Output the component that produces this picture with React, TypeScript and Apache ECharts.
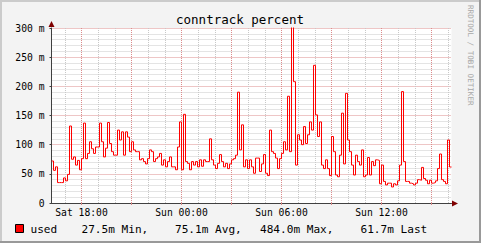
import { useEffect, useRef } from "react";
import * as echarts from "echarts";

const TITLE = "conntrack percent";
const SERIES_NAME = "used";
const WATERMARK = "RRDTOOL / TOBI OETIKER";

// hours since Sat 00:00
const START_HOUR = 16.2;
const END_HOUR = 40.2;
const STEP_HOURS = 0.12;

// conntrack used, in milli-percent units ("m")
const usedValues = [
  72, 56, 62, 35, 35, 35, 43, 38, 49, 132,
  75, 79, 65, 73, 57, 76, 137, 76, 85, 105,
  93, 85, 96, 96, 137, 105, 79, 94, 138, 102,
  88, 82, 82, 125, 108, 122, 82, 122, 113, 88,
  105, 91, 88, 88, 74, 76, 71, 67, 76, 91,
  88, 71, 76, 79, 85, 65, 74, 62, 71, 79,
  62, 62, 57, 96, 139, 57, 152, 71, 68, 57,
  71, 65, 71, 62, 74, 63, 74, 71, 71, 110,
  74, 65, 59, 68, 83, 71, 62, 68, 59, 67,
  74, 76, 82, 190, 91, 134, 62, 74, 59, 74,
  62, 51, 77, 77, 54, 67, 83, 51, 47, 125,
  88, 85, 77, 59, 76, 85, 105, 91, 183, 88,
  484, 208, 65, 117, 108, 100, 131, 102, 117, 139,
  125, 236, 151, 114, 139, 65, 59, 74, 59, 47,
  114, 88, 48, 45, 82, 154, 67, 188, 108, 88,
  65, 48, 82, 71, 65, 91, 45, 48, 78, 48,
  71, 64, 74, 73, 33, 65, 37, 31, 34, 34,
  27.5, 33, 31, 38, 65, 191, 71, 37, 37, 34,
  33, 31, 34, 40, 39, 61, 42, 39, 33, 39,
  34, 35, 38, 59, 84, 40, 37, 33, 108, 61.7,
];

const Y_MIN = 0;
const Y_MAX = 300;
const Y_STEP = 50;
const majorHours = [18, 21, 24, 27, 30, 33, 36, 39];
const minorHours = [17, 18, 19, 20, 21, 22, 23, 24, 25, 26, 27, 28, 29, 30, 31, 32, 33, 34, 35, 36, 37, 38, 39, 40];
const labelHours = [18, 24, 30, 36];
const statTexts = ["27.5m Min,", "75.1m Avg,", "484.0m Max,", "61.7m Last"];

const MONO = "DejaVu Sans Mono";
const RED = "#ff0000";

function hourLabel(h: number): string {
  const day = h < 24 ? "Sat" : "Sun";
  const hh = Math.round(h) % 24;
  return `${day} ${String(hh).padStart(2, "0")}:00`;
}

export default function App() {
  const ref = useRef<HTMLDivElement>(null);

  useEffect(() => {
    if (!ref.current) return;
    const chart = echarts.init(ref.current, undefined, { renderer: "svg" });

    const data: [number, number][] = usedValues.map((v, i) => [START_HOUR + STEP_HOURS * i, v]);
    data.push([END_HOUR, usedValues[usedValues.length - 1]]);

    const statX = [81.5, 175, 260, 360.5];

    chart.setOption({
      animation: false,
      color: [RED],
      backgroundColor: "#f3f3f3",
      grid: {
        left: 51.5,
        right: 29.5,
        top: 28,
        bottom: 40,
        show: true,
        backgroundColor: "#ffffff",
        borderWidth: 0,
      },
      xAxis: [
        {
          type: "value",
          position: "bottom",
          min: START_HOUR,
          max: END_HOUR,
          axisLine: { show: false },
          axisLabel: { show: false },
          axisTick: { show: false, customValues: minorHours },
          splitLine: { show: true, lineStyle: { color: "#c8c8c8", type: [1, 1], width: 1 } },
        },
        {
          type: "value",
          position: "bottom",
          offset: 0,
          min: START_HOUR,
          max: END_HOUR,
          axisLine: { show: true, lineStyle: { color: "#404040", width: 1 } },
          axisTick: { show: true, length: 2, customValues: majorHours, lineStyle: { color: "#d88888" } },
          axisLabel: {
            show: true,
            customValues: labelHours,
            formatter: (v: number) => hourLabel(v),
            color: "#000",
            fontFamily: MONO,
            fontSize: 9.7,
            margin: 4,
          },
          splitLine: { show: true, lineStyle: { color: "#dc8c8c", type: [1, 1], width: 1 } },
        },
      ],
      yAxis: {
        type: "value",
        min: Y_MIN,
        max: Y_MAX,
        interval: Y_STEP,
        axisLine: { show: true, lineStyle: { color: "#404040", width: 1 } },
        axisTick: { show: true, length: 2, lineStyle: { color: "#404040" } },
        axisLabel: {
          formatter: (v: number) => (v === 0 ? "0" : `${v} m`),
          color: "#000",
          fontFamily: MONO,
          fontSize: 9.7,
          margin: 7,
        },
        splitLine: { show: true, lineStyle: { color: "#dc8c8c", type: [1, 1], width: 1 } },
        minorTick: { show: false, splitNumber: 5 },
        minorSplitLine: { show: true, lineStyle: { color: "#c8c8c8", type: [1, 1], width: 1 } },
      },
      series: [
        {
          name: SERIES_NAME,
          type: "line",
          xAxisIndex: 1,
          step: "end",
          showSymbol: false,
          symbol: "none",
          clip: true,
          data,
          color: RED,
          itemStyle: { color: RED },
          lineStyle: { color: RED, width: 1, opacity: 1, shadowBlur: 0 },
          emphasis: { disabled: true },
          z: 5,
        },
      ],
      graphic: [
        { type: "rect", shape: { x: 0, y: 0, width: 481, height: 2 }, style: { fill: "#cbcbcb" }, silent: true },
        { type: "rect", shape: { x: 0, y: 0, width: 2, height: 243 }, style: { fill: "#cbcbcb" }, silent: true },
        { type: "rect", shape: { x: 0, y: 241, width: 481, height: 2 }, style: { fill: "#999999" }, silent: true },
        { type: "rect", shape: { x: 479, y: 0, width: 2, height: 243 }, style: { fill: "#999999" }, silent: true },
        {
          type: "text",
          x: 240,
          y: 19.5,
          style: { text: TITLE, fontFamily: MONO, fontSize: 12.5, fill: "#000", textAlign: "center", textVerticalAlign: "middle" },
          silent: true,
        },
        {
          type: "text",
          x: 470.5,
          y: 5,
          rotation: -Math.PI / 2,
          style: { text: WATERMARK, fontFamily: MONO, fontSize: 7.6, fill: "#a8a8a8", textAlign: "left", textVerticalAlign: "middle" },
          silent: true,
        },
        {
          type: "polygon",
          shape: { points: [[452, 200.5], [458, 203.5], [452, 206.5]] },
          style: { fill: "#7f0000" },
          z: 20,
          silent: true,
        },
        {
          type: "polygon",
          shape: { points: [[48.5, 27], [51.5, 21], [54.5, 27]] },
          style: { fill: "#7f0000" },
          z: 20,
          silent: true,
        },
        {
          type: "rect",
          shape: { x: 15.5, y: 224.5, width: 8, height: 8 },
          style: { fill: RED, stroke: "#000", lineWidth: 1 },
          silent: true,
        },
        {
          type: "text",
          x: 30.5,
          y: 229,
          style: { text: SERIES_NAME, fontFamily: MONO, fontSize: 11.1, fill: "#000", textAlign: "left", textVerticalAlign: "middle" },
          silent: true,
        },
        ...statTexts.map((t, i) => ({
          type: "text",
          x: statX[i],
          y: 229,
          style: { text: t, fontFamily: MONO, fontSize: 11.1, fill: "#000", textAlign: "left", textVerticalAlign: "middle" },
          silent: true,
        })),
      ],
    });

    return () => chart.dispose();
  }, []);

  return <div ref={ref} style={{ position: "absolute", left: 0, top: 0, width: 481, height: 243 }} />;
}
